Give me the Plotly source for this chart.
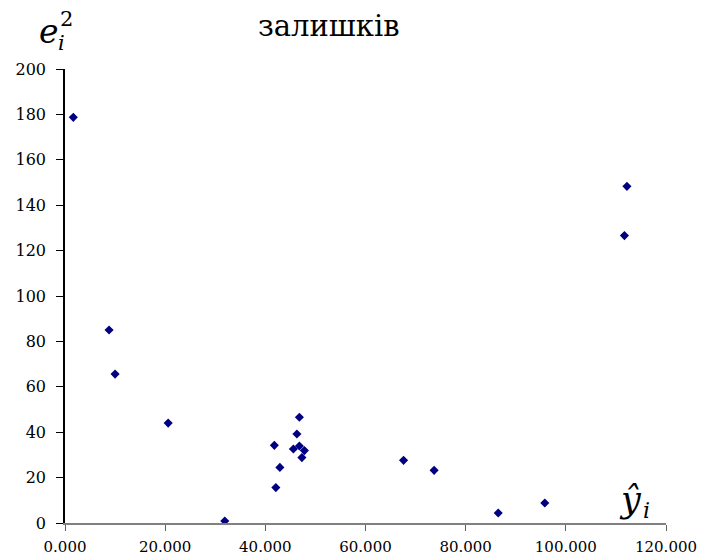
import plotly.graph_objects as go

# Fitted values (x) and squared residuals (y)
y_hat = [1.66, 8.8, 10.0, 20.6, 31.9, 41.8, 42.1, 42.9, 45.6, 46.3, 46.8, 46.8,
         47.3, 47.8, 67.6, 73.7, 86.5, 95.8, 111.7, 112.2]
e_sq = [178.7, 85.0, 65.6, 44.0, 0.9, 34.2, 15.6, 24.5, 32.6, 39.2, 46.6, 33.9,
        28.8, 31.9, 27.6, 23.2, 4.4, 8.8, 126.6, 148.3]

x_ticks = [0, 20, 40, 60, 80, 100, 120]
x_tick_labels = ["0.000", "20.000", "40.000", "60.000", "80.000", "100.000", "120.000"]
y_ticks = [0, 20, 40, 60, 80, 100, 120, 140, 160, 180, 200]

SERIF = "DejaVu Serif"

# page offset of the default 8px body margin is compensated here
W, H = 697, 551
PL, PR, PT, PB = 65, 666, 69, 523.5   # plot area in page pixels

fig = go.Figure()
fig.add_trace(go.Scatter(
    x=y_hat, y=e_sq, mode="markers",
    marker=dict(symbol="diamond", size=7, color="#000080"),
    showlegend=False,
))

fig.update_layout(
    width=W, height=H,
    margin=dict(l=PL - 8, r=W - (PR - 8), t=PT - 8, b=H - (PB - 8), pad=0),
    paper_bgcolor="white", plot_bgcolor="white",
    font=dict(family=SERIF, color="black", size=16),
    xaxis=dict(
        range=[0, 120], tickvals=x_ticks, ticktext=x_tick_labels,
        showgrid=False, zeroline=False, automargin=False,
        showline=True, linecolor="#808080", linewidth=1.5,
        ticks="outside", ticklen=6, tickcolor="#606060", tickwidth=1,
        ticklabelstandoff=3,
        tickfont=dict(family=SERIF, size=15, color="black"),
    ),
    yaxis=dict(
        range=[0, 200], tickvals=y_ticks,
        showgrid=False, zeroline=False, automargin=False,
        showline=True, linecolor="black", linewidth=1.5,
        ticks="outside", ticklen=7, tickcolor="black", tickwidth=1,
        ticklabelstandoff=7,
        tickfont=dict(family=SERIF, size=16, color="black"),
    ),
)

def px_ann(text, px, py, size, anchor="center"):
    fig.add_annotation(text=text, xref="paper", yref="paper",
                       x=(px - PL) / (PR - PL), y=(PB - py) / (PB - PT),
                       xanchor=anchor, yanchor="middle", showarrow=False,
                       font=dict(family=SERIF, size=size, color="black"))

# Title fragment
px_ann("залишків", 329, 26, 29)

# y-axis label e_i^2
px_ann("<i>e</i>", 49, 31, 33)
px_ann("2", 66, 19, 21)
px_ann("<i>i</i>", 61, 43, 21)

# x-axis label y-hat_i
px_ann("<i>ŷ</i>", 630, 500, 35)
px_ann("<i>i</i>", 646, 511, 22)

fig.write_html("out.html")
